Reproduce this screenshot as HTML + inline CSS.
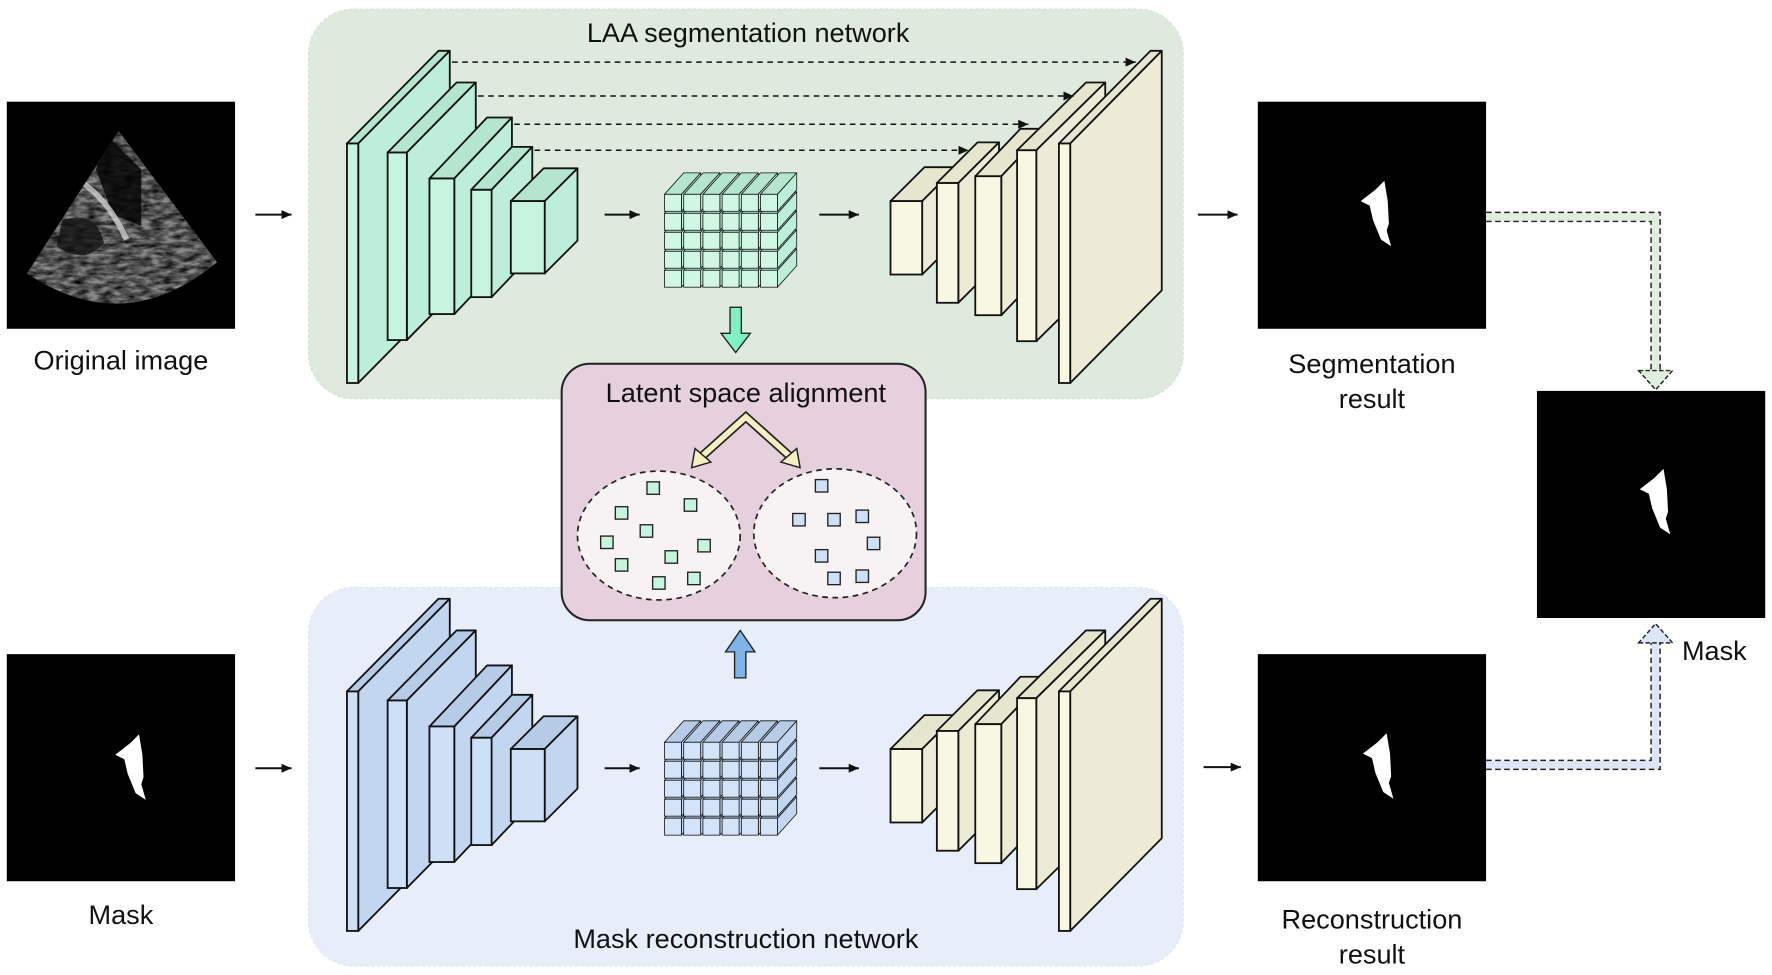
<!DOCTYPE html>
<html><head><meta charset="utf-8">
<style>
html,body{margin:0;padding:0;background:#fff;}
svg{display:block;}
text{font-family:"Liberation Sans","DejaVu Sans",sans-serif;fill:#111;}
</style></head>
<body>
<svg id="s" xmlns="http://www.w3.org/2000/svg" width="1772" height="975" viewBox="0 0 1568 863" preserveAspectRatio="none">
<defs>
<marker id="ah" markerWidth="10" markerHeight="10" refX="9" refY="5" orient="auto" markerUnits="userSpaceOnUse">
<path d="M0,1 L9,5 L0,9 Z" fill="#111"/></marker>
<filter id="noise" x="0" y="0" width="1" height="1">
<feTurbulence type="fractalNoise" baseFrequency="0.09 0.25" numOctaves="3" seed="4"/>
<feColorMatrix type="matrix" values="0 0 0 0 0  0 0 0 0 0  0 0 0 0 0  0 0 0 -1.6 1.2"/>
</filter>
<clipPath id="fan"><path d="M105,116 L192,232 Q110,300 24,242 Z"/></clipPath>
</defs>
<rect x="273" y="8" width="774" height="345" rx="40" fill="#deeadd" stroke="#d4e2d3" stroke-dasharray="3,2"/>
<rect x="273" y="520" width="774" height="335" rx="40" fill="#e8eef9" stroke="#dde4f0" stroke-dasharray="3,2"/>
<text x="662" y="37" font-size="24" text-anchor="middle">LAA segmentation network</text>
<text x="660" y="839" font-size="24" text-anchor="middle">Mask reconstruction network</text>
<g id="g"></g>
<rect x="6" y="90" width="202" height="201" fill="#000"/>
<g clip-path="url(#fan)">
<rect x="20" y="110" width="180" height="170" fill="#8a8a8a"/>
<rect x="20" y="110" width="180" height="170" fill="#000" filter="url(#noise)"/>
<path d="M95,120 L125,150 L125,200 L100,190 L85,150 Z" fill="#050505" opacity="0.85"/>
<path d="M55,195 Q85,185 92,215 Q75,235 50,218 Z" fill="#111" opacity="0.8"/>
<path d="M70,160 Q95,175 112,212" stroke="#ddd" stroke-width="5" fill="none" opacity="0.7"/>
</g>
<text x="107" y="327" font-size="24" text-anchor="middle">Original image</text>
<rect x="6" y="579" width="202" height="201" fill="#000"/>
<text x="107" y="818" font-size="24" text-anchor="middle">Mask</text>
<rect x="1113" y="90" width="202" height="201" fill="#000"/>
<text x="1214" y="330" font-size="24" text-anchor="middle">Segmentation</text>
<text x="1214" y="361" font-size="24" text-anchor="middle">result</text>
<rect x="1113" y="579" width="202" height="201" fill="#000"/>
<text x="1214" y="822" font-size="24" text-anchor="middle">Reconstruction</text>
<text x="1214" y="853" font-size="24" text-anchor="middle">result</text>
<rect x="1360" y="346" width="202" height="201" fill="#000"/>
<text x="1517" y="584" font-size="24" text-anchor="middle">Mask</text>
<g stroke="#111" stroke-width="1.8" marker-end="url(#ah)">
<line x1="226" y1="190" x2="258" y2="190"/>
<line x1="535" y1="190" x2="566" y2="190"/>
<line x1="725" y1="190" x2="760" y2="190"/>
<line x1="1060" y1="190" x2="1095" y2="190"/>
<line x1="226" y1="680" x2="258" y2="680"/>
<line x1="535" y1="680" x2="566" y2="680"/>
<line x1="725" y1="680" x2="760" y2="680"/>
<line x1="1065" y1="679" x2="1098" y2="679"/>
</g>
<g stroke="#111" stroke-width="1.3" stroke-dasharray="5,4" marker-end="url(#ah)">
<line x1="400" y1="55" x2="1005" y2="55"/>
<line x1="423" y1="85" x2="950" y2="85"/>
<line x1="455" y1="110" x2="910" y2="110"/>
<line x1="473" y1="133" x2="857" y2="133"/>
</g>
<path d="M1315,192 H1465 V330" fill="none" stroke="#dfeedd" stroke-width="7"/>
<path d="M1315,188 H1469 V330 M1315,196 H1461 V330" fill="none" stroke="#222" stroke-width="1.3" stroke-dasharray="5,3"/>
<path d="M1450,328 L1480,328 L1465,345 Z" fill="#dfeedd" stroke="#222" stroke-width="1.3" stroke-dasharray="4,2"/>
<path d="M1315,677 H1465 V568" fill="none" stroke="#dde6f6" stroke-width="7"/>
<path d="M1315,673 H1461 V568 M1315,681 H1469 V568" fill="none" stroke="#222" stroke-width="1.3" stroke-dasharray="5,3"/>
<path d="M1450,569 L1480,569 L1465,552 Z" fill="#dde6f6" stroke="#222" stroke-width="1.3" stroke-dasharray="4,2"/>
<rect x="497" y="322" width="322" height="227" rx="25" fill="#e6d0dd" stroke="#222" stroke-width="1.8"/>
<text x="660" y="356" font-size="24" text-anchor="middle">Latent space alignment</text>
<ellipse cx="583" cy="474" rx="72" ry="57" fill="#f7f3f5" stroke="#222" stroke-width="1.5" stroke-dasharray="5,4"/>
<ellipse cx="739" cy="472" rx="72" ry="57" fill="#f7f3f5" stroke="#222" stroke-width="1.5" stroke-dasharray="5,4"/>
<!-- chevron arrows -->
<polyline points="621,404 660,369 699,404" fill="none" stroke="#222" stroke-width="8" stroke-linejoin="miter"/>
<polyline points="621,404 660,369 699,404" fill="none" stroke="#f4f0c2" stroke-width="5" stroke-linejoin="miter"/>
<path d="M612,414 L615,397 L629,409 Z" fill="#f4f0c2" stroke="#222" stroke-width="1.3"/>
<path d="M708,414 L705,397 L691,409 Z" fill="#f4f0c2" stroke="#222" stroke-width="1.3"/>
<path d="M646,272 H656 V295 H664 L651,312 L638,295 H646 Z" fill="#7ff2c2" stroke="#222" stroke-width="1.2"/>
<path d="M650,600 H660 V577 H668 L655,558 L642,577 H650 Z" fill="#7eb4ea" stroke="#222" stroke-width="1.2"/>
</svg>
<script>
var NS="http://www.w3.org/2000/svg",g=document.getElementById('g'),s=document.getElementById('s');
function el(t,a,p){var e=document.createElementNS(NS,t);for(var k in a)e.setAttribute(k,a[k]);(p||g).appendChild(e);return e;}
function poly(pts,f,p,sw){el('polygon',{points:pts.map(function(q){return q.join(',')}).join(' '),fill:f,stroke:'#111','stroke-width':sw||1.6,'stroke-linejoin':'round'},p);}
function slab(x,y,w,h,dx,dy,cf,ct,cs,sw,p){
 poly([[x,y],[x+w,y],[x+w+dx,y+dy],[x+dx,y+dy]],ct,p,sw);
 poly([[x+w,y],[x+w+dx,y+dy],[x+w+dx,y+h+dy],[x+w,y+h]],cs,p,sw);
 el('rect',{x:x,y:y,width:w,height:h,fill:cf,stroke:'#111','stroke-width':sw||1.6},p);}
function net(oy,cf,ct,cs,cl){
 var enc=[[307,127,10,212,81,-82],[343,135,17,166,61,-62],[380,158,22,120,51,-54],[417,168,18,95,36,-38],[452,178,30,64,29,-29]];
 enc.forEach(function(a){slab(a[0],a[1]+oy,a[2],a[3],a[4],a[5],cf,ct,cs);});
 var dec=[[788,178,28,65,30,-30],[829,162,19,106,36,-36],[863,156,23,123,40,-42],[900,133,17,169,61,-60],[937,127,10,212,81,-82]];
 dec.forEach(function(a){slab(a[0],a[1]+oy,a[2],a[3],a[4],a[5],'#f8f8e2','#e6e6cf','#edebd6');});
 for(var r=4;r>=0;r--)for(var c=0;c<6;c++){
  var x=588+c*17,y=172+oy+r*16.8;
  slab(x,y,15,15,17,-19,cl,ct,cs,0.7,g);}
}
net(0,'#c6f4de','#b4e6cf','#bdeeda','#d0f7e4');
net(485,'#cde0f6','#b5cbe6','#c2d6ef','#d4e4f8');
var L=[[578,432],[550,454],[611,447],[572,470],[537,480],[623,483],[594,493],[550,500],[583,516],[614,512]];
var R=[[727,430],[707,460],[738,460],[763,457],[773,481],[727,492],[738,512],[763,510]];
L.forEach(function(p){el('rect',{x:p[0]-5.5,y:p[1]-5.5,width:11,height:11,fill:'#c6f4de',stroke:'#222','stroke-width':1.2},s);});
R.forEach(function(p){el('rect',{x:p[0]-5.5,y:p[1]-5.5,width:11,height:11,fill:'#cde0f6',stroke:'#222','stroke-width':1.2},s);});
function blob(cx,cy){el('path',{d:'M'+(cx-16)+','+(cy-12)+' L'+(cx-3)+','+(cy-22)+' L'+(cx+5)+','+(cy-30)+' L'+(cx+8)+','+(cy-12)+' L'+(cx+9)+','+(cy+8)+' L'+(cx+7)+','+(cy+14)+' L'+(cx+11)+','+(cy+28)+' L'+(cx+2)+','+(cy+22)+' L'+(cx-5)+','+(cy+5)+' L'+(cx-8)+','+(cy-8)+' Z',fill:'#fff'},s);}
blob(1220,190);blob(1467,445);blob(118,680);blob(1222,679);
</script>
</body></html>
